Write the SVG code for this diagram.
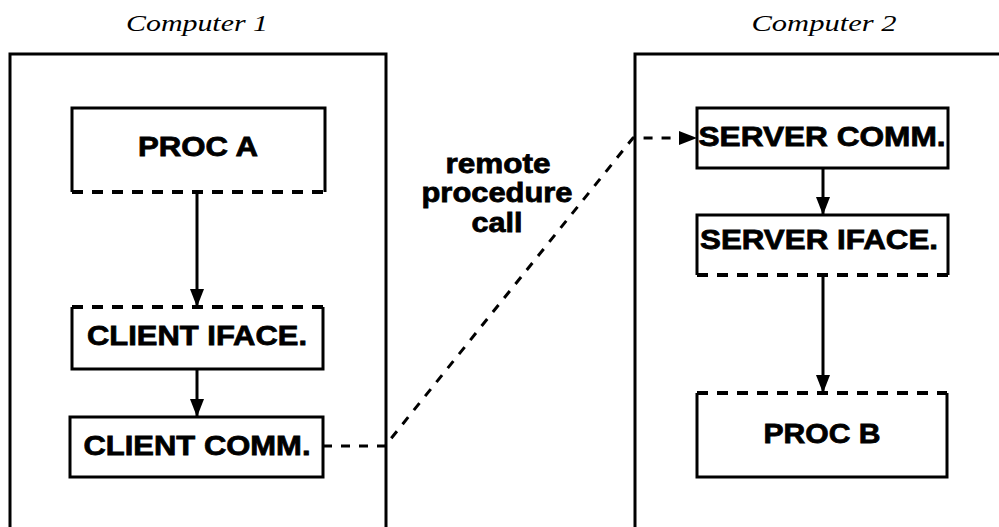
<svg xmlns="http://www.w3.org/2000/svg" width="999" height="527" viewBox="0 0 999 527">
<style>
.frame{fill:none;stroke:#000;stroke-width:3}
.solid{fill:none;stroke:#000;stroke-width:3}
.dash{fill:none;stroke:#000;stroke-width:4;stroke-dasharray:11 9}
.lbl{font-family:"Liberation Sans",Arial,sans-serif;font-weight:bold;font-size:28px;fill:#000;stroke:#000;stroke-width:0.8;text-anchor:middle}
.title{font-family:"Liberation Serif","Times New Roman",serif;font-style:italic;font-size:24px;fill:#000;text-anchor:middle}
.conn{fill:none;stroke:#000;stroke-width:3}
.rpc{fill:none;stroke:#000;stroke-width:3;stroke-dasharray:9 9}
</style>
<defs>
<marker id="ah" markerUnits="userSpaceOnUse" markerWidth="20" markerHeight="14" refX="18" refY="7" orient="auto">
<path d="M0,0 L18,7 L0,14 Z" fill="#000"/>
</marker>
</defs>
<rect width="999" height="527" fill="#fff"/>
<g id="computer1">
<path class="frame" d="M10,530 V54 H386 V530"/>
<text class="title" x="197" y="31" textLength="142" lengthAdjust="spacingAndGlyphs">Computer 1</text>
</g>
<g id="computer2">
<path class="frame" d="M635,530 V54 H1005"/>
<text class="title" x="824" y="31" textLength="145" lengthAdjust="spacingAndGlyphs">Computer 2</text>
</g>
<g id="procA">
<path class="solid" d="M72,192 V108 H325 V192"/>
<path class="dash" d="M72,192 H325"/>
<text class="lbl" x="198" y="156" textLength="120" lengthAdjust="spacingAndGlyphs">PROC A</text>
</g>
<g id="clientIface">
<path class="dash" d="M72,307 H323"/>
<path class="solid" d="M72,307 V369 H323 V307"/>
<text class="lbl" x="197" y="345" textLength="220" lengthAdjust="spacingAndGlyphs">CLIENT IFACE.</text>
</g>
<g id="clientComm">
<rect class="solid" x="70" y="417" width="253" height="60"/>
<text class="lbl" x="197" y="455" textLength="227" lengthAdjust="spacingAndGlyphs">CLIENT COMM.</text>
</g>
<g id="serverComm">
<rect class="solid" x="697" y="108" width="251" height="60"/>
<text class="lbl" x="822" y="146" textLength="247" lengthAdjust="spacingAndGlyphs">SERVER COMM.</text>
</g>
<g id="serverIface">
<path class="solid" d="M697,275 V215 H948 V275"/>
<path class="dash" d="M697,275 H948"/>
<text class="lbl" x="819" y="249" textLength="238" lengthAdjust="spacingAndGlyphs">SERVER IFACE.</text>
</g>
<g id="procB">
<path class="dash" d="M697,393 H947"/>
<path class="solid" d="M697,393 V477 H947 V393"/>
<text class="lbl" x="822" y="443" textLength="117" lengthAdjust="spacingAndGlyphs">PROC B</text>
</g>
<g id="connectors">
<path class="conn" d="M197,192 V307" marker-end="url(#ah)"/>
<path class="conn" d="M197,369 V417" marker-end="url(#ah)"/>
<path class="conn" d="M823,168 V215" marker-end="url(#ah)"/>
<path class="conn" d="M823,275 V393" marker-end="url(#ah)"/>
<path class="rpc" d="M323,446 H385 L633,138 H697" marker-end="url(#ah)"/>
<text class="lbl" x="498" y="173" textLength="105" lengthAdjust="spacingAndGlyphs">remote</text>
<text class="lbl" x="497" y="202" textLength="151" lengthAdjust="spacingAndGlyphs">procedure</text>
<text class="lbl" x="497" y="232" textLength="51" lengthAdjust="spacingAndGlyphs">call</text>
</g>
</svg>
